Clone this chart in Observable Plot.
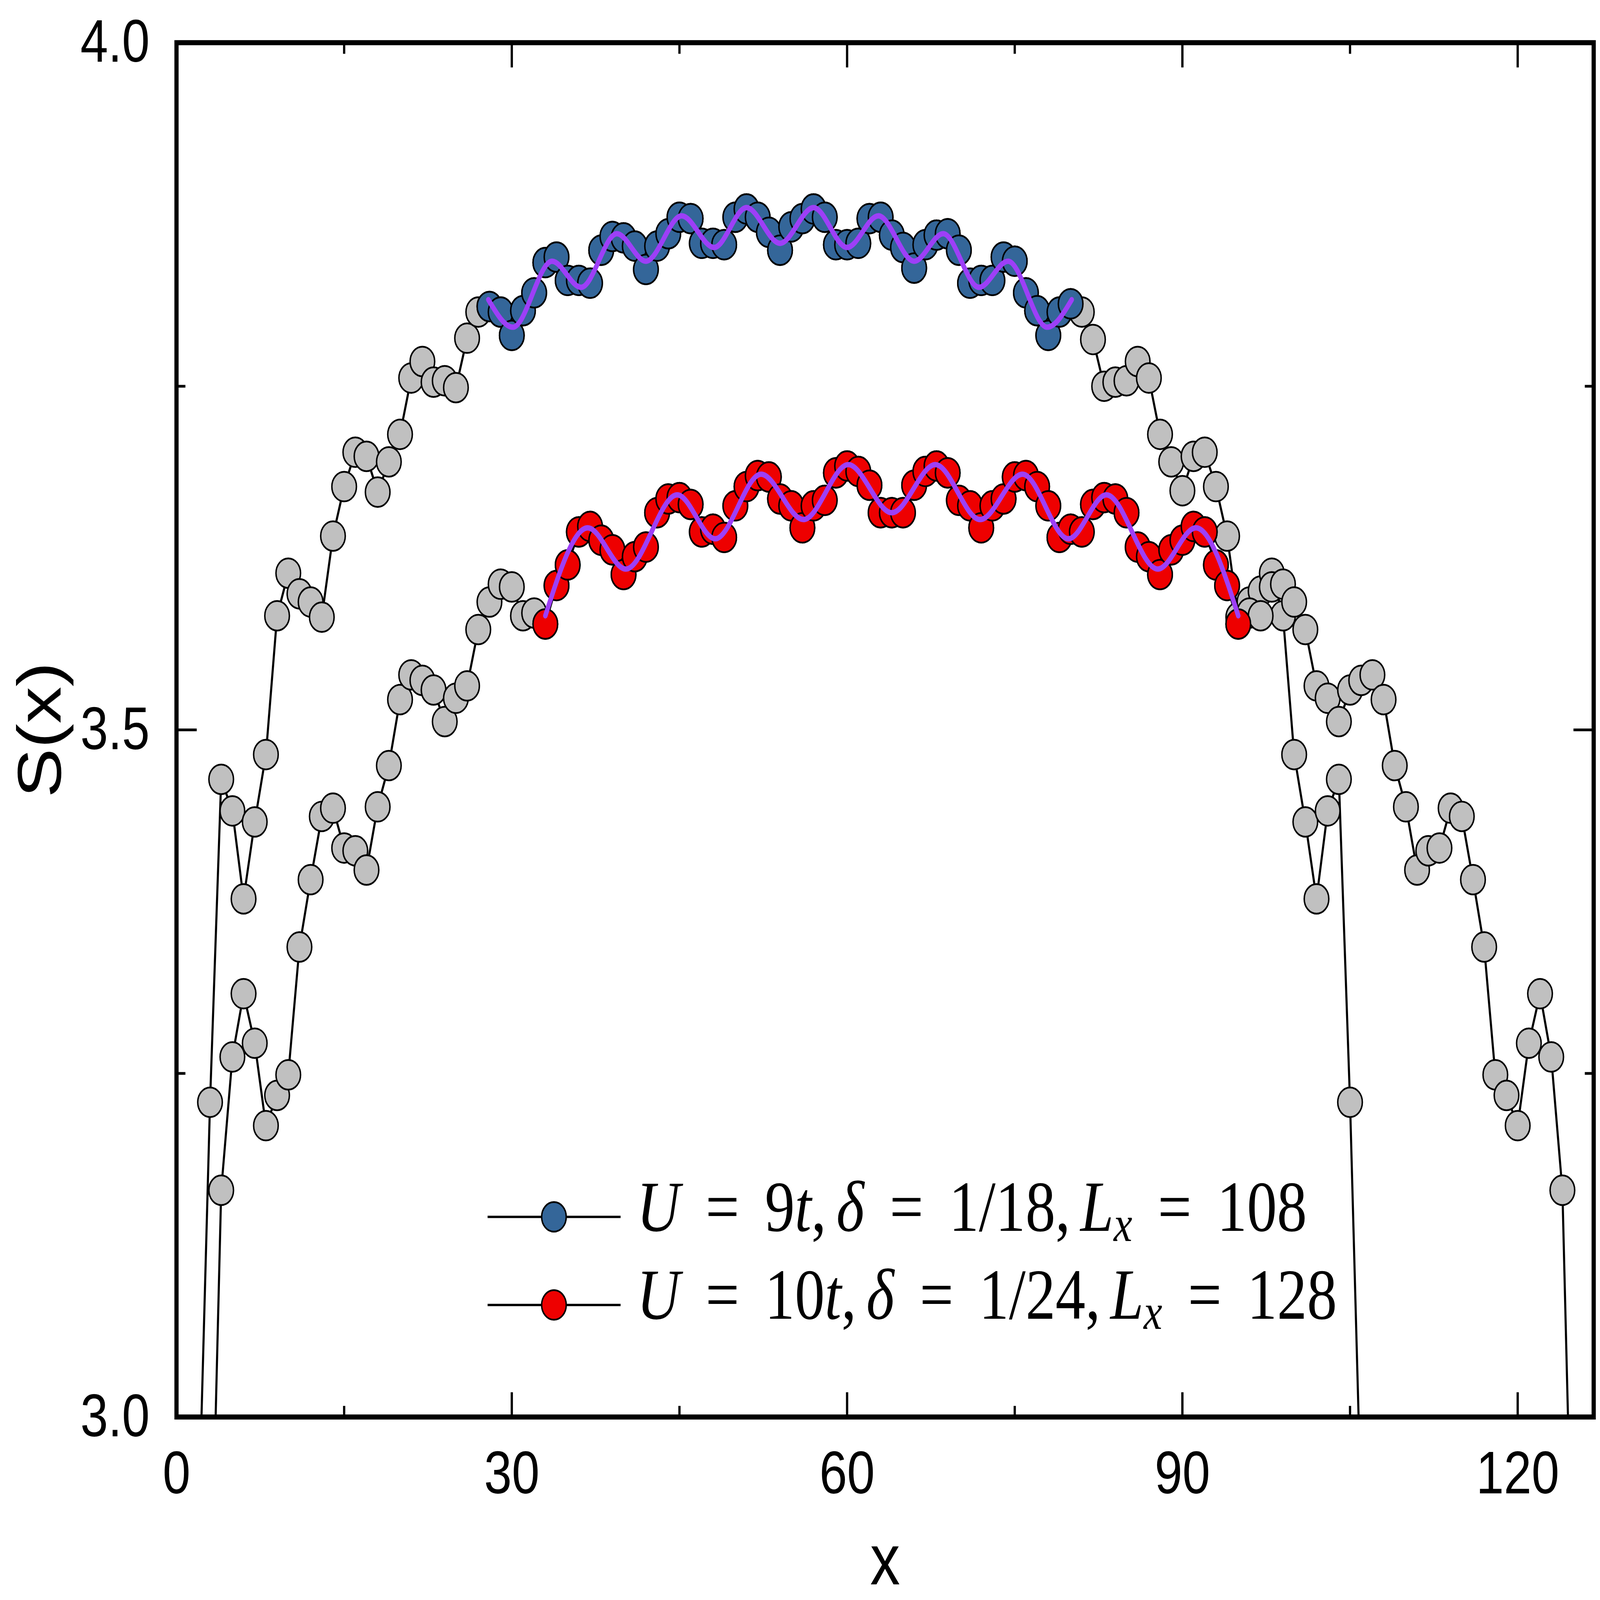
<!DOCTYPE html>
<html>
<head>
<meta charset="utf-8">
<script src="https://cdn.jsdelivr.net/npm/d3@7"></script>
<script src="https://cdn.jsdelivr.net/npm/@observablehq/plot@0.6"></script>
<style>
  html, body { margin: 0; padding: 0; background: #fff; }
  #outer { position: relative; overflow: hidden; background: #fff; }
  #wrap { position: absolute; left: 0; top: 0; width: 4945px; height: 4105px; background: #fff; transform-origin: 0 0; }
  #wrap > svg { position: absolute; left: 0; top: 0; }
</style>
</head>
<body>
<div id="outer"><div id="wrap"></div></div>
<script>
// ---------------- data ----------------
// Upper gray curve (Lx = 108), sites 2..106
const upperFirstSite = 2;
const upperS = [
  2.93, 3.229, 3.464, 3.441, 3.377, 3.433, 3.482, 3.583, 3.614, 3.599,
  3.593, 3.582, 3.641, 3.677, 3.702, 3.699, 3.673, 3.695, 3.715, 3.756,
  3.768, 3.753, 3.754, 3.749, 3.785, 3.804, 3.808, 3.804, 3.787, 3.805,
  3.818, 3.840, 3.844, 3.827, 3.827, 3.825, 3.849, 3.859, 3.858, 3.852,
  3.835, 3.852, 3.861, 3.873, 3.872, 3.854, 3.854, 3.853, 3.873, 3.879,
  3.873, 3.862, 3.849,
  3.866, 3.872, 3.879, 3.873, 3.853, 3.853, 3.854, 3.872, 3.873, 3.860,
  3.851, 3.836, 3.853, 3.860, 3.861, 3.849, 3.825, 3.827, 3.827, 3.844,
  3.841, 3.818, 3.805, 3.787, 3.804, 3.810, 3.804, 3.784, 3.750, 3.753,
  3.754, 3.768, 3.756, 3.715, 3.695, 3.674, 3.699, 3.702, 3.677, 3.641,
  3.582, 3.593, 3.601, 3.614, 3.583, 3.482, 3.433, 3.377, 3.441, 3.464,
  3.229, 2.93
];
// Lower gray curve (Lx = 128), sites 3..125
const lowerFirstSite = 3;
const lowerS = [
  2.835, 3.165, 3.262, 3.308, 3.272, 3.212, 3.234, 3.249, 3.342, 3.391,
  3.437, 3.443, 3.414, 3.412, 3.398, 3.444, 3.474, 3.522, 3.540, 3.536,
  3.529, 3.506, 3.523, 3.532, 3.573, 3.593, 3.606, 3.604, 3.583, 3.585,
  3.577, 3.605, 3.620, 3.644, 3.648, 3.638, 3.631, 3.613, 3.626, 3.633,
  3.658, 3.668, 3.669, 3.664, 3.644, 3.646, 3.640, 3.663, 3.677, 3.685,
  3.684, 3.668, 3.663, 3.647, 3.663, 3.667, 3.687, 3.692, 3.688, 3.678,
  3.658, 3.658,
  3.658, 3.678, 3.688, 3.692, 3.687, 3.667, 3.663, 3.647, 3.663, 3.668,
  3.684, 3.685, 3.677, 3.663, 3.640, 3.646, 3.644, 3.664, 3.669, 3.668,
  3.658, 3.633, 3.626, 3.613, 3.631, 3.638, 3.648, 3.644, 3.620, 3.605,
  3.577, 3.585, 3.583, 3.604, 3.606, 3.593, 3.573, 3.532, 3.523, 3.506,
  3.529, 3.536, 3.540, 3.522, 3.474, 3.444, 3.398, 3.412, 3.414, 3.443,
  3.437, 3.391, 3.342, 3.249, 3.234, 3.212, 3.272, 3.308, 3.262, 3.165,
  2.835
];
// sites highlighted in colour
const blueRange = [28, 80];
const redRange = [33, 95];

// fitted curves (extrema)
const blueFitX = [27.9, 30.1, 33.6, 36.2, 39.4, 42.0, 45.2, 48.1, 51.0, 54.0, 57.0, 60.0, 62.8, 66.0, 68.6, 71.8, 74.4, 77.9, 80.1];
const blueFitS = [3.813, 3.793, 3.841, 3.822, 3.861, 3.841, 3.874, 3.851, 3.880, 3.854, 3.880, 3.851, 3.874, 3.841, 3.861, 3.822, 3.841, 3.793, 3.813];
const redFitX = [33.0, 36.8, 40.2, 44.8, 48.2, 52.3, 56.1, 60.1, 64.0, 67.9, 71.9, 75.7, 79.8, 83.2, 87.8, 91.2, 95.0];
const redFitS = [3.583, 3.647, 3.617, 3.671, 3.639, 3.686, 3.653, 3.693, 3.658, 3.693, 3.653, 3.686, 3.639, 3.671, 3.617, 3.647, 3.583];

// ticks and labels
const xTicks = [0, 30, 60, 90, 120];
const xMinorTicks = [15, 45, 75, 105];
const yTicks = [3.0, 3.5, 4.0];
const yMinorTicks = [3.25, 3.75];
const xTitle = "x";
const yTitle = "S(x)";
const legendTokens = [
  [["U","i"],["=","op"],["9","n"],["t","i"],[",","p"],["δ","i"],["=","op"],["1/18","n"],[",","p"],["L","i"],["x","sub"],["=","op"],["108","n"]],
  [["U","i"],["=","op"],["10","n"],["t","i"],[",","p"],["δ","i"],["=","op"],["1/24","n"],[",","p"],["L","i"],["x","sub"],["=","op"],["128","n"]]
];

// ---------------- styles ----------------
const GRAY = "#c0c0c0", BLUE = "#346699", RED = "#ee0000", PURPLE = "#9d3ff7";
const W = 4945, H = 4105;
const M = {left: 545, right: 20, top: 109, bottom: 470};

// ---------------- fit the 4945x4105 design box to the actual viewport ----------------
const vw = window.innerWidth || W, vh = window.innerHeight || H;
const outer = document.getElementById("outer");
outer.style.width = vw + "px";
outer.style.height = vh + "px";
document.body.style.overflow = "hidden";
const wrap = document.getElementById("wrap");
wrap.style.transform = `scale(${vw / W}, ${vh / H})`;

// ---------------- build ----------------
const upper = upperS.map((s, i) => ({x: upperFirstSite + i, s}));
const lower = lowerS.map((s, i) => ({x: lowerFirstSite + i, s}));
const blueFit = blueFitX.map((x, i) => ({x, s: blueFitS[i]}));
const redFit = redFitX.map((x, i) => ({x, s: redFitS[i]}));

const dotStyle = {x: "x", y: "s", r: 38, stroke: "black", strokeWidth: 4.5, clip: true};
const tickStyle = {tickFormat: () => "", label: null, strokeWidth: 7};

const chart = Plot.plot({
  width: W, height: H,
  marginLeft: M.left, marginRight: M.right, marginTop: M.top, marginBottom: M.bottom,
  x: {domain: [0, 126.8]},
  y: {domain: [3, 4]},
  style: {fontFamily: "'Liberation Sans', Arial, sans-serif", background: "white", color: "black", overflow: "visible", maxWidth: "none"},
  marks: [
    Plot.line(upper, {x: "x", y: "s", stroke: "black", strokeWidth: 6.5, clip: true}),
    Plot.line(lower, {x: "x", y: "s", stroke: "black", strokeWidth: 6.5, clip: true}),
    Plot.dot(upper, {...dotStyle, fill: GRAY}),
    Plot.dot(lower, {...dotStyle, fill: GRAY}),
    Plot.dot(upper, {...dotStyle, fill: BLUE, filter: d => d.x >= blueRange[0] && d.x <= blueRange[1]}),
    Plot.dot(lower, {...dotStyle, fill: RED, filter: d => d.x >= redRange[0] && d.x <= redRange[1]}),
    Plot.line(blueFit, {x: "x", y: "s", stroke: PURPLE, strokeWidth: 14, curve: "monotone-x", strokeLinecap: "round"}),
    Plot.line(redFit, {x: "x", y: "s", stroke: PURPLE, strokeWidth: 14, curve: "monotone-x", strokeLinecap: "round"}),
    Plot.axisX({anchor: "bottom", ticks: xTicks, tickSize: -63, ...tickStyle}),
    Plot.axisX({anchor: "bottom", ticks: xMinorTicks, tickSize: -28, ...tickStyle}),
    Plot.axisX({anchor: "top", ticks: xTicks, tickSize: -63, ...tickStyle}),
    Plot.axisX({anchor: "top", ticks: xMinorTicks, tickSize: -28, ...tickStyle}),
    Plot.axisY({anchor: "left", ticks: yTicks, tickSize: -63, ...tickStyle}),
    Plot.axisY({anchor: "left", ticks: yMinorTicks, tickSize: -28, ...tickStyle}),
    Plot.axisY({anchor: "right", ticks: yTicks, tickSize: -63, ...tickStyle}),
    Plot.axisY({anchor: "right", ticks: yMinorTicks, tickSize: -28, ...tickStyle}),
    Plot.axisX({anchor: "bottom", ticks: xTicks, tickSize: 0, tickPadding: 87, fontSize: 154, label: null, tickFormat: d3.format("d")}),
    Plot.axisY({anchor: "left", ticks: yTicks, tickSize: 0, tickPadding: 83, fontSize: 154, label: null, tickFormat: d3.format(".1f")}),
    Plot.frame({stroke: "black", strokeWidth: 13}),
    Plot.text([xTitle], {frameAnchor: "bottom", dy: 429, fontSize: 185, text: d => d, fill: "black", textAnchor: "middle"}),
    Plot.text([yTitle], {frameAnchor: "left", dx: -419, rotate: -90, fontSize: 190, text: d => d, fill: "black", textAnchor: "middle"})
  ]
});
wrap.appendChild(chart);

// ---------------- legend (overlay, inside plot area) ----------------
const leg = d3.create("svg")
  .attr("width", W).attr("height", H)
  .style("pointer-events", "none");
wrap.appendChild(leg.node());

const legLine = {x1: 1507, x2: 1918, cx: 1712};
const rowY = [3122, 3348];
const rowBaseline = [3158, 3383];
const rowTarget = [2071, 2164];
const rowFill = [BLUE, RED];
const FS = 185;

function buildText(g, tokens, baseline, extra) {
  g.selectAll("*").remove();
  const t = g.append("text")
    .attr("x", 1968).attr("y", baseline)
    .attr("font-family", "'Liberation Serif', 'DejaVu Serif', serif")
    .attr("font-size", FS).attr("fill", "black");
  let prev = null;
  tokens.forEach(([s, kind]) => {
    let dx = 0;
    if (kind === "op") dx += 0.385 * FS + extra;
    if (prev === "op") dx += 0.385 * FS + extra;
    if (prev === "p") dx += 0.167 * FS;
    const ts = t.append("tspan").text(s).attr("dx", dx);
    if (kind === "i") ts.attr("font-style", "italic");
    if (kind === "sub") ts.attr("font-style", "italic").attr("font-size", FS * 0.7).attr("dy", 26);
    if (prev === "sub") ts.attr("dy", -26);
    prev = kind;
  });
  return t;
}

legendTokens.forEach((tokens, i) => {
  leg.append("line").attr("x1", legLine.x1).attr("x2", legLine.x2)
    .attr("y1", rowY[i]).attr("y2", rowY[i]).attr("stroke", "black").attr("stroke-width", 6);
  leg.append("circle").attr("cx", legLine.cx).attr("cy", rowY[i]).attr("r", 38)
    .attr("fill", rowFill[i]).attr("stroke", "black").attr("stroke-width", 4.5);
  const g = leg.append("g");
  const t = buildText(g, tokens, rowBaseline[i], 0);
  let w = 0;
  try { w = t.node().getBBox().width; } catch (e) { w = 0; }
  if (w > 0 && Math.abs(rowTarget[i] - w) < 600) {
    buildText(g, tokens, rowBaseline[i], (rowTarget[i] - w) / 6);
  }
});
</script>
</body>
</html>
